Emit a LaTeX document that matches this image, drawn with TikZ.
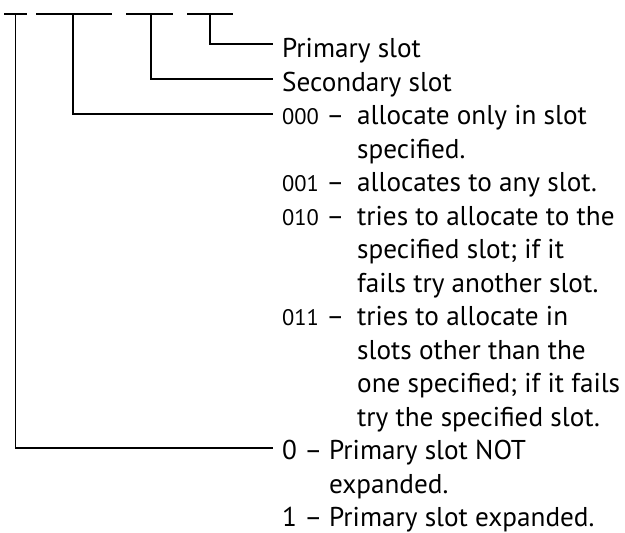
\documentclass[tikz,border=0pt]{standalone}
\usepackage{fontspec}
\setmainfont{PT Sans}
\usetikzlibrary{calc}
% smaller figures for the three-bit codes
\newcommand\bitcode[1]{{\fontsize{22.5}{22.5}\selectfont #1}}
\tikzset{
  txt/.style={anchor=base west, inner sep=0pt, font=\fontsize{27.2}{33}\selectfont},
  wire/.style={line width=1.2pt, line cap=rect},
}
\begin{document}
\begin{tikzpicture}[x=1pt,y=-1pt]
\useasboundingbox (0,0) rectangle (625,533);

% register fields along the top
\coordinate (f1a) at (5,14);   \coordinate (f1b) at (26,14);
\coordinate (f2a) at (37,14);  \coordinate (f2b) at (111,14);
\coordinate (f3a) at (127,14); \coordinate (f3b) at (172,14);
\coordinate (f4a) at (188,14); \coordinate (f4b) at (232,14);
\draw[wire] (f1a) -- (f1b);
\draw[wire] (f2a) -- (f2b);
\draw[wire] (f3a) -- (f3b);
\draw[wire] (f4a) -- (f4b);
% taps under each field
\coordinate (t1) at (15.5,14);
\coordinate (t2) at (73,14);
\coordinate (t3) at (151,14);
\coordinate (t4) at (210,14);

% descriptions
\node[txt] (prim) at (282,57.5)  {Primary slot};
\node[txt] (sec)  at (282,91)    {Secondary slot};

\node[txt] (c0)  at (282,124.5) {\bitcode{000} –};
\node[txt] (c0a) at (357,124.5) {allocate only in slot};
\node[txt] (c0b) at (357,158)   {specified.};
\node[txt] (c1)  at (282,191.5) {\bitcode{001} –};
\node[txt] (c1a) at (357,191.5) {allocates to any slot.};
\node[txt] (c2)  at (282,225)   {\bitcode{010} –};
\node[txt] (c2a) at (357,225)   {tries to allocate to the};
\node[txt] (c2b) at (357,258.5) {specified slot; if it};
\node[txt] (c2c) at (357,292)   {fails try another slot.};
\node[txt] (c3)  at (282,325.5) {\bitcode{011} –};
\node[txt] (c3a) at (357,325.5) {tries to allocate in};
\node[txt] (c3b) at (357,359)   {slots other than the};
\node[txt] (c3c) at (357,392.5) {one specified; if it fails};
\node[txt] (c3d) at (357,426)   {try the specified slot.};

\node[txt] (x0)  at (282,459.5) {0 –};
\node[txt] (x0a) at (329,459.5) {Primary slot NOT};
\node[txt] (x0b) at (329,493)   {expanded.};
\node[txt] (x1)  at (282,526.5) {1 –};
\node[txt] (x1a) at (329,526.5) {Primary slot expanded.};

% leader ends
\coordinate (e1) at ($(prim.base west)+(-10,-13.5)$);
\coordinate (e2) at ($(sec.base west)+(-10,-12)$);
\coordinate (e3) at ($(c0.base west)+(-10,-10.5)$);
\coordinate (e4) at ($(x0.base west)+(-10,-11.5)$);

% leaders from the fields to their descriptions
\draw[wire] (t4) |- (e1);
\draw[wire] (t3) |- (e2);
\draw[wire] (t2) |- (e3);
\draw[wire] (t1) |- (e4);
\end{tikzpicture}
\end{document}
